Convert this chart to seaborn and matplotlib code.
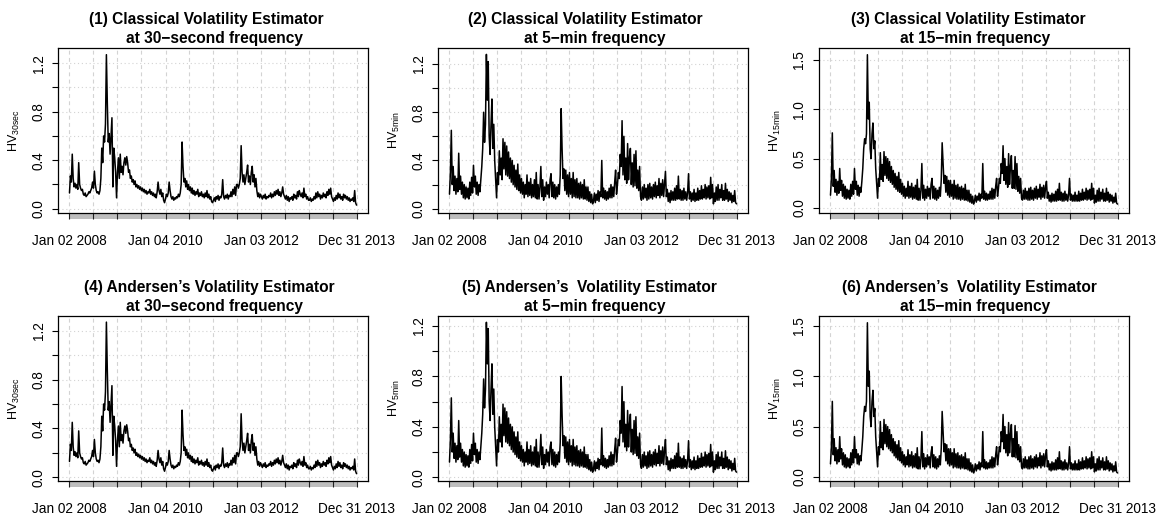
import numpy as np
import pandas as pd
import matplotlib
matplotlib.use("Agg")
import matplotlib.pyplot as plt
import matplotlib.dates as mdates
from matplotlib.patches import Rectangle
from matplotlib.transforms import blended_transform_factory
import seaborn as sns

# ---------------------------------------------------------------- data
start_date = "2008-01-02"
end_date = "2013-12-31"

# first trading day of every half-year (ticks + vertical grid)
period_marks = ["2008-01-02", "2008-07-01", "2009-01-02", "2009-07-01",
                "2010-01-04", "2010-07-01", "2011-01-03", "2011-07-01",
                "2012-01-03", "2012-07-02", "2013-01-02", "2013-07-01",
                "2013-12-31"]
period_labels = ["Jan 02 2008", "", "", "", "Jan 04 2010", "", "", "",
                 "Jan 03 2012", "", "", "", "Dec 31 2013"]

# weekly realised volatility, one row per half-year
classical_30s = [
    0.13, 0.27, 0.22, 0.45, 0.25, 0.18, 0.21, 0.17, 0.20, 0.16, 0.38, 0.20, 0.17, 0.15, 0.16, 0.12, 0.11, 0.13, 0.10, 0.11, 0.12, 0.14, 0.13, 0.15, 0.17, 0.22,
    0.17, 0.31, 0.20, 0.15, 0.13, 0.14, 0.12, 0.15, 0.25, 0.50, 0.38, 0.60, 0.55, 0.70, 1.27, 0.87, 0.55, 0.62, 0.45, 0.60, 0.75, 0.18, 0.50, 0.42, 0.30, 0.09,
    0.30, 0.42, 0.25, 0.45, 0.30, 0.35, 0.28, 0.38, 0.42, 0.36, 0.43, 0.38, 0.30, 0.32, 0.25, 0.27, 0.22, 0.24, 0.20, 0.23, 0.18, 0.20, 0.17, 0.19, 0.16, 0.18,
    0.15, 0.17, 0.14, 0.16, 0.13, 0.15, 0.12, 0.14, 0.13, 0.16, 0.12, 0.14, 0.11, 0.13, 0.10, 0.12, 0.09, 0.14, 0.22, 0.15, 0.12, 0.16, 0.10, 0.13, 0.07, 0.05,
    0.08, 0.12, 0.10, 0.13, 0.22, 0.15, 0.10, 0.08, 0.10, 0.07, 0.09, 0.08, 0.10, 0.09, 0.12, 0.10, 0.13, 0.20, 0.55, 0.35, 0.22, 0.25, 0.18, 0.23, 0.16, 0.20,
    0.15, 0.18, 0.13, 0.17, 0.12, 0.15, 0.11, 0.14, 0.12, 0.16, 0.10, 0.13, 0.11, 0.14, 0.10, 0.12, 0.09, 0.13, 0.10, 0.15, 0.09, 0.12, 0.08, 0.10, 0.06, 0.05,
    0.07, 0.09, 0.06, 0.10, 0.08, 0.11, 0.07, 0.10, 0.09, 0.12, 0.24, 0.10, 0.08, 0.11, 0.09, 0.12, 0.08, 0.11, 0.10, 0.14, 0.10, 0.16, 0.12, 0.18, 0.11, 0.20,
    0.20, 0.17, 0.20, 0.25, 0.52, 0.30, 0.22, 0.28, 0.20, 0.25, 0.30, 0.36, 0.22, 0.27, 0.20, 0.30, 0.35, 0.22, 0.28, 0.18, 0.25, 0.15, 0.10, 0.13, 0.09, 0.12,
    0.10, 0.08, 0.11, 0.09, 0.12, 0.08, 0.10, 0.09, 0.11, 0.10, 0.13, 0.09, 0.12, 0.10, 0.14, 0.11, 0.15, 0.12, 0.16, 0.11, 0.14, 0.10, 0.13, 0.18, 0.12, 0.10,
    0.08, 0.11, 0.07, 0.10, 0.06, 0.09, 0.08, 0.10, 0.07, 0.12, 0.09, 0.11, 0.08, 0.14, 0.10, 0.15, 0.12, 0.10, 0.13, 0.09, 0.17, 0.10, 0.12, 0.08, 0.10, 0.07,
    0.07, 0.09, 0.06, 0.08, 0.07, 0.10, 0.08, 0.13, 0.09, 0.14, 0.10, 0.12, 0.08, 0.11, 0.09, 0.13, 0.10, 0.12, 0.09, 0.14, 0.11, 0.16, 0.12, 0.17, 0.10, 0.08,
    0.06, 0.09, 0.07, 0.11, 0.08, 0.13, 0.09, 0.12, 0.08, 0.10, 0.07, 0.12, 0.09, 0.11, 0.08, 0.10, 0.07, 0.09, 0.06, 0.08, 0.07, 0.09, 0.06, 0.15, 0.05, 0.03,
]

classical_5min = [
    0.12, 0.30, 0.65, 0.20, 0.35, 0.15, 0.27, 0.12, 0.25, 0.14, 0.46, 0.16, 0.27, 0.12, 0.22, 0.09, 0.20, 0.08, 0.18, 0.09, 0.17, 0.08, 0.22, 0.11, 0.26, 0.13,
    0.36, 0.18, 0.27, 0.12, 0.22, 0.11, 0.20, 0.14, 0.25, 0.35, 0.50, 0.80, 0.55, 0.70, 1.28, 0.90, 1.22, 0.60, 0.45, 0.70, 0.91, 0.50, 0.70, 0.40, 0.25, 0.09,
    0.30, 0.20, 0.48, 0.28, 0.42, 0.24, 0.58, 0.33, 0.55, 0.28, 0.52, 0.27, 0.47, 0.25, 0.42, 0.22, 0.40, 0.20, 0.36, 0.18, 0.32, 0.16, 0.37, 0.15, 0.28, 0.13,
    0.25, 0.12, 0.22, 0.09, 0.20, 0.12, 0.28, 0.10, 0.22, 0.11, 0.25, 0.09, 0.20, 0.10, 0.24, 0.09, 0.30, 0.08, 0.20, 0.08, 0.18, 0.35, 0.10, 0.24, 0.07, 0.18,
    0.10, 0.22, 0.12, 0.20, 0.09, 0.24, 0.29, 0.10, 0.22, 0.09, 0.20, 0.08, 0.18, 0.10, 0.20, 0.12, 0.28, 0.83, 0.50, 0.25, 0.33, 0.15, 0.32, 0.12, 0.28, 0.10,
    0.30, 0.12, 0.25, 0.09, 0.30, 0.10, 0.24, 0.09, 0.25, 0.09, 0.21, 0.08, 0.22, 0.09, 0.20, 0.08, 0.24, 0.08, 0.18, 0.07, 0.18, 0.06, 0.14, 0.05, 0.12, 0.04,
    0.06, 0.13, 0.05, 0.12, 0.07, 0.15, 0.06, 0.14, 0.10, 0.40, 0.09, 0.17, 0.08, 0.15, 0.07, 0.14, 0.08, 0.17, 0.09, 0.20, 0.09, 0.18, 0.10, 0.22, 0.32, 0.12,
    0.20, 0.30, 0.25, 0.45, 0.35, 0.73, 0.28, 0.60, 0.24, 0.42, 0.21, 0.54, 0.24, 0.42, 0.50, 0.20, 0.38, 0.18, 0.45, 0.19, 0.48, 0.17, 0.32, 0.15, 0.35, 0.10,
    0.07, 0.18, 0.08, 0.20, 0.09, 0.17, 0.07, 0.20, 0.08, 0.21, 0.09, 0.18, 0.08, 0.20, 0.10, 0.22, 0.09, 0.19, 0.11, 0.25, 0.09, 0.21, 0.11, 0.24, 0.10, 0.21,
    0.31, 0.10, 0.16, 0.06, 0.13, 0.05, 0.15, 0.07, 0.14, 0.07, 0.17, 0.07, 0.19, 0.08, 0.27, 0.08, 0.16, 0.07, 0.15, 0.07, 0.17, 0.08, 0.14, 0.07, 0.13, 0.29,
    0.08, 0.14, 0.06, 0.13, 0.07, 0.16, 0.06, 0.13, 0.07, 0.17, 0.07, 0.15, 0.08, 0.19, 0.08, 0.16, 0.09, 0.20, 0.08, 0.18, 0.09, 0.19, 0.08, 0.26, 0.09, 0.20,
    0.04, 0.13, 0.06, 0.18, 0.07, 0.20, 0.07, 0.16, 0.09, 0.20, 0.07, 0.15, 0.07, 0.21, 0.08, 0.16, 0.06, 0.14, 0.07, 0.13, 0.05, 0.11, 0.06, 0.15, 0.05, 0.04,
]

classical_15min = [
    0.13, 0.30, 0.76, 0.22, 0.38, 0.16, 0.29, 0.13, 0.27, 0.15, 0.40, 0.18, 0.28, 0.12, 0.24, 0.10, 0.22, 0.09, 0.19, 0.10, 0.18, 0.09, 0.24, 0.12, 0.27, 0.14,
    0.40, 0.19, 0.27, 0.13, 0.23, 0.12, 0.21, 0.16, 0.27, 0.40, 0.60, 0.70, 0.65, 0.75, 1.55, 0.90, 1.07, 0.60, 0.50, 0.75, 0.86, 0.60, 0.68, 0.40, 0.25, 0.10,
    0.30, 0.22, 0.56, 0.29, 0.44, 0.27, 0.57, 0.33, 0.52, 0.30, 0.50, 0.28, 0.47, 0.26, 0.42, 0.24, 0.38, 0.21, 0.35, 0.19, 0.32, 0.17, 0.36, 0.16, 0.29, 0.14,
    0.25, 0.12, 0.22, 0.10, 0.20, 0.12, 0.27, 0.10, 0.22, 0.11, 0.25, 0.09, 0.21, 0.10, 0.23, 0.09, 0.29, 0.08, 0.20, 0.08, 0.18, 0.45, 0.10, 0.23, 0.08, 0.19,
    0.10, 0.22, 0.12, 0.20, 0.09, 0.24, 0.30, 0.10, 0.22, 0.09, 0.20, 0.08, 0.18, 0.10, 0.21, 0.12, 0.28, 0.66, 0.45, 0.25, 0.33, 0.16, 0.32, 0.13, 0.28, 0.11,
    0.28, 0.12, 0.24, 0.09, 0.28, 0.10, 0.23, 0.09, 0.24, 0.09, 0.21, 0.08, 0.22, 0.09, 0.20, 0.08, 0.24, 0.08, 0.18, 0.07, 0.18, 0.06, 0.14, 0.05, 0.12, 0.04,
    0.07, 0.13, 0.06, 0.12, 0.08, 0.15, 0.07, 0.14, 0.10, 0.45, 0.09, 0.17, 0.08, 0.15, 0.08, 0.14, 0.09, 0.17, 0.09, 0.20, 0.09, 0.19, 0.10, 0.22, 0.30, 0.12,
    0.20, 0.30, 0.25, 0.45, 0.35, 0.63, 0.28, 0.50, 0.24, 0.42, 0.21, 0.55, 0.24, 0.42, 0.53, 0.20, 0.38, 0.20, 0.52, 0.19, 0.45, 0.17, 0.32, 0.15, 0.30, 0.10,
    0.08, 0.18, 0.09, 0.20, 0.09, 0.17, 0.08, 0.20, 0.08, 0.21, 0.09, 0.18, 0.08, 0.20, 0.10, 0.22, 0.09, 0.19, 0.11, 0.24, 0.09, 0.21, 0.11, 0.23, 0.10, 0.21,
    0.27, 0.10, 0.16, 0.07, 0.13, 0.06, 0.15, 0.07, 0.14, 0.07, 0.17, 0.07, 0.19, 0.08, 0.25, 0.08, 0.16, 0.07, 0.15, 0.07, 0.17, 0.08, 0.14, 0.07, 0.13, 0.30,
    0.08, 0.14, 0.07, 0.13, 0.07, 0.16, 0.07, 0.13, 0.07, 0.17, 0.07, 0.15, 0.08, 0.19, 0.08, 0.16, 0.09, 0.20, 0.08, 0.18, 0.09, 0.19, 0.08, 0.25, 0.09, 0.20,
    0.05, 0.13, 0.06, 0.18, 0.07, 0.20, 0.07, 0.16, 0.09, 0.19, 0.07, 0.15, 0.07, 0.20, 0.08, 0.16, 0.06, 0.14, 0.07, 0.13, 0.05, 0.11, 0.06, 0.15, 0.05, 0.04,
]

andersen_30s = [
    0.13, 0.27, 0.22, 0.45, 0.25, 0.18, 0.21, 0.17, 0.20, 0.16, 0.38, 0.20, 0.17, 0.15, 0.16, 0.12, 0.11, 0.13, 0.10, 0.11, 0.12, 0.14, 0.13, 0.15, 0.17, 0.22,
    0.17, 0.31, 0.20, 0.15, 0.13, 0.14, 0.12, 0.15, 0.25, 0.50, 0.38, 0.60, 0.55, 0.70, 1.27, 0.87, 0.55, 0.62, 0.45, 0.60, 0.75, 0.18, 0.50, 0.42, 0.30, 0.09,
    0.30, 0.42, 0.25, 0.45, 0.30, 0.35, 0.28, 0.38, 0.42, 0.36, 0.43, 0.38, 0.30, 0.32, 0.25, 0.27, 0.22, 0.24, 0.20, 0.23, 0.18, 0.20, 0.17, 0.19, 0.16, 0.18,
    0.15, 0.17, 0.14, 0.16, 0.13, 0.15, 0.12, 0.14, 0.13, 0.16, 0.12, 0.14, 0.11, 0.13, 0.10, 0.12, 0.09, 0.14, 0.22, 0.15, 0.12, 0.16, 0.10, 0.13, 0.07, 0.05,
    0.08, 0.12, 0.10, 0.13, 0.22, 0.15, 0.10, 0.08, 0.10, 0.07, 0.09, 0.08, 0.10, 0.09, 0.12, 0.10, 0.13, 0.20, 0.55, 0.35, 0.22, 0.25, 0.18, 0.23, 0.16, 0.20,
    0.15, 0.18, 0.13, 0.17, 0.12, 0.15, 0.11, 0.14, 0.12, 0.16, 0.10, 0.13, 0.11, 0.14, 0.10, 0.12, 0.09, 0.13, 0.10, 0.15, 0.09, 0.12, 0.08, 0.10, 0.06, 0.05,
    0.07, 0.09, 0.06, 0.10, 0.08, 0.11, 0.07, 0.10, 0.09, 0.12, 0.24, 0.10, 0.08, 0.11, 0.09, 0.12, 0.08, 0.11, 0.10, 0.14, 0.10, 0.16, 0.12, 0.18, 0.11, 0.20,
    0.20, 0.17, 0.20, 0.25, 0.52, 0.30, 0.22, 0.28, 0.20, 0.25, 0.30, 0.36, 0.22, 0.27, 0.20, 0.30, 0.35, 0.22, 0.28, 0.18, 0.25, 0.15, 0.10, 0.13, 0.09, 0.12,
    0.10, 0.08, 0.11, 0.09, 0.12, 0.08, 0.10, 0.09, 0.11, 0.10, 0.13, 0.09, 0.12, 0.10, 0.14, 0.11, 0.15, 0.12, 0.16, 0.11, 0.14, 0.10, 0.13, 0.18, 0.12, 0.10,
    0.08, 0.11, 0.07, 0.10, 0.06, 0.09, 0.08, 0.10, 0.07, 0.12, 0.09, 0.11, 0.08, 0.14, 0.10, 0.15, 0.12, 0.10, 0.13, 0.09, 0.17, 0.10, 0.12, 0.08, 0.10, 0.07,
    0.07, 0.09, 0.06, 0.08, 0.07, 0.10, 0.08, 0.13, 0.09, 0.14, 0.10, 0.12, 0.08, 0.11, 0.09, 0.13, 0.10, 0.12, 0.09, 0.14, 0.11, 0.16, 0.12, 0.17, 0.10, 0.08,
    0.06, 0.09, 0.07, 0.11, 0.08, 0.13, 0.09, 0.12, 0.08, 0.10, 0.07, 0.12, 0.09, 0.11, 0.08, 0.10, 0.07, 0.09, 0.06, 0.08, 0.07, 0.09, 0.06, 0.15, 0.05, 0.03,
]

andersen_5min = [
    0.12, 0.30, 0.63, 0.20, 0.35, 0.15, 0.27, 0.12, 0.25, 0.14, 0.45, 0.16, 0.27, 0.12, 0.22, 0.09, 0.20, 0.08, 0.18, 0.09, 0.17, 0.08, 0.22, 0.11, 0.26, 0.13,
    0.35, 0.18, 0.27, 0.12, 0.22, 0.11, 0.20, 0.14, 0.25, 0.35, 0.50, 0.78, 0.55, 0.70, 1.23, 0.90, 1.18, 0.60, 0.45, 0.70, 0.90, 0.50, 0.70, 0.40, 0.25, 0.09,
    0.30, 0.20, 0.48, 0.28, 0.42, 0.24, 0.58, 0.33, 0.55, 0.28, 0.52, 0.27, 0.47, 0.25, 0.42, 0.22, 0.40, 0.20, 0.36, 0.18, 0.32, 0.16, 0.36, 0.15, 0.28, 0.13,
    0.25, 0.12, 0.22, 0.09, 0.20, 0.12, 0.28, 0.10, 0.22, 0.11, 0.25, 0.09, 0.20, 0.10, 0.24, 0.09, 0.30, 0.08, 0.20, 0.08, 0.18, 0.34, 0.10, 0.24, 0.07, 0.18,
    0.10, 0.22, 0.12, 0.20, 0.09, 0.24, 0.28, 0.10, 0.22, 0.09, 0.20, 0.08, 0.18, 0.10, 0.20, 0.12, 0.28, 0.80, 0.50, 0.25, 0.33, 0.15, 0.32, 0.12, 0.28, 0.10,
    0.30, 0.12, 0.25, 0.09, 0.30, 0.10, 0.24, 0.09, 0.25, 0.09, 0.21, 0.08, 0.22, 0.09, 0.20, 0.08, 0.24, 0.08, 0.18, 0.07, 0.18, 0.06, 0.14, 0.05, 0.12, 0.04,
    0.06, 0.13, 0.05, 0.12, 0.07, 0.15, 0.06, 0.14, 0.10, 0.39, 0.09, 0.17, 0.08, 0.15, 0.07, 0.14, 0.08, 0.17, 0.09, 0.20, 0.09, 0.18, 0.10, 0.22, 0.31, 0.12,
    0.20, 0.30, 0.25, 0.45, 0.35, 0.72, 0.28, 0.60, 0.24, 0.42, 0.21, 0.53, 0.24, 0.42, 0.50, 0.20, 0.38, 0.18, 0.45, 0.19, 0.48, 0.17, 0.32, 0.15, 0.35, 0.10,
    0.07, 0.18, 0.08, 0.20, 0.09, 0.17, 0.07, 0.20, 0.08, 0.21, 0.09, 0.18, 0.08, 0.20, 0.10, 0.22, 0.09, 0.19, 0.11, 0.25, 0.09, 0.21, 0.11, 0.24, 0.10, 0.21,
    0.30, 0.10, 0.16, 0.06, 0.13, 0.05, 0.15, 0.07, 0.14, 0.07, 0.17, 0.07, 0.19, 0.08, 0.27, 0.08, 0.16, 0.07, 0.15, 0.07, 0.17, 0.08, 0.14, 0.07, 0.13, 0.29,
    0.08, 0.14, 0.06, 0.13, 0.07, 0.16, 0.06, 0.13, 0.07, 0.17, 0.07, 0.15, 0.08, 0.19, 0.08, 0.16, 0.09, 0.20, 0.08, 0.18, 0.09, 0.19, 0.08, 0.26, 0.09, 0.20,
    0.04, 0.13, 0.06, 0.18, 0.07, 0.20, 0.07, 0.16, 0.09, 0.20, 0.07, 0.15, 0.07, 0.21, 0.08, 0.16, 0.06, 0.14, 0.07, 0.13, 0.05, 0.11, 0.06, 0.15, 0.05, 0.04,
]

andersen_15min = [
    0.13, 0.30, 0.75, 0.22, 0.38, 0.16, 0.29, 0.13, 0.27, 0.15, 0.40, 0.18, 0.28, 0.12, 0.24, 0.10, 0.22, 0.09, 0.19, 0.10, 0.18, 0.09, 0.24, 0.12, 0.27, 0.14,
    0.40, 0.19, 0.27, 0.13, 0.23, 0.12, 0.21, 0.16, 0.27, 0.40, 0.60, 0.70, 0.65, 0.75, 1.53, 0.90, 1.05, 0.60, 0.50, 0.75, 0.86, 0.60, 0.68, 0.40, 0.25, 0.10,
    0.30, 0.22, 0.55, 0.29, 0.44, 0.27, 0.57, 0.33, 0.52, 0.30, 0.50, 0.28, 0.47, 0.26, 0.42, 0.24, 0.38, 0.21, 0.35, 0.19, 0.32, 0.17, 0.36, 0.16, 0.29, 0.14,
    0.25, 0.12, 0.22, 0.10, 0.20, 0.12, 0.27, 0.10, 0.22, 0.11, 0.25, 0.09, 0.21, 0.10, 0.23, 0.09, 0.29, 0.08, 0.20, 0.08, 0.18, 0.45, 0.10, 0.23, 0.08, 0.19,
    0.10, 0.22, 0.12, 0.20, 0.09, 0.24, 0.30, 0.10, 0.22, 0.09, 0.20, 0.08, 0.18, 0.10, 0.21, 0.12, 0.28, 0.65, 0.45, 0.25, 0.33, 0.16, 0.32, 0.13, 0.28, 0.11,
    0.28, 0.12, 0.24, 0.09, 0.28, 0.10, 0.23, 0.09, 0.24, 0.09, 0.21, 0.08, 0.22, 0.09, 0.20, 0.08, 0.24, 0.08, 0.18, 0.07, 0.18, 0.06, 0.14, 0.05, 0.12, 0.04,
    0.07, 0.13, 0.06, 0.12, 0.08, 0.15, 0.07, 0.14, 0.10, 0.45, 0.09, 0.17, 0.08, 0.15, 0.08, 0.14, 0.09, 0.17, 0.09, 0.20, 0.09, 0.19, 0.10, 0.22, 0.30, 0.12,
    0.20, 0.30, 0.25, 0.45, 0.35, 0.62, 0.28, 0.50, 0.24, 0.42, 0.21, 0.54, 0.24, 0.42, 0.52, 0.20, 0.38, 0.20, 0.51, 0.19, 0.45, 0.17, 0.32, 0.15, 0.30, 0.10,
    0.08, 0.18, 0.09, 0.20, 0.09, 0.17, 0.08, 0.20, 0.08, 0.21, 0.09, 0.18, 0.08, 0.20, 0.10, 0.22, 0.09, 0.19, 0.11, 0.24, 0.09, 0.21, 0.11, 0.23, 0.10, 0.21,
    0.27, 0.10, 0.16, 0.07, 0.13, 0.06, 0.15, 0.07, 0.14, 0.07, 0.17, 0.07, 0.19, 0.08, 0.25, 0.08, 0.16, 0.07, 0.15, 0.07, 0.17, 0.08, 0.14, 0.07, 0.13, 0.30,
    0.08, 0.14, 0.07, 0.13, 0.07, 0.16, 0.07, 0.13, 0.07, 0.17, 0.07, 0.15, 0.08, 0.19, 0.08, 0.16, 0.09, 0.20, 0.08, 0.18, 0.09, 0.19, 0.08, 0.25, 0.09, 0.20,
    0.05, 0.13, 0.06, 0.18, 0.07, 0.20, 0.07, 0.16, 0.09, 0.19, 0.07, 0.15, 0.07, 0.20, 0.08, 0.16, 0.06, 0.14, 0.07, 0.13, 0.05, 0.11, 0.06, 0.15, 0.05, 0.04,
]

titles = [
    ("(1) Classical Volatility Estimator", "at 30\u2212second frequency"),
    ("(2) Classical Volatility Estimator", "at 5\u2212min frequency"),
    ("(3) Classical Volatility Estimator", "at 15\u2212min frequency"),
    ("(4) Andersen\u2019s Volatility Estimator", "at 30\u2212second frequency"),
    ("(5) Andersen\u2019s  Volatility Estimator", "at 5\u2212min frequency"),
    ("(6) Andersen\u2019s  Volatility Estimator", "at 15\u2212min frequency"),
]
y_labels = [r"HV$_{\mathregular{30sec}}$", r"HV$_{\mathregular{5min}}$",
            r"HV$_{\mathregular{15min}}$"] * 2
series = [classical_30s, classical_5min, classical_15min,
          andersen_30s, andersen_5min, andersen_15min]

ticks_fine = [0.0, 0.2, 0.4, 0.6, 0.8, 1.0, 1.2]
labels_fine = ["0.0", "", "0.4", "", "0.8", "", "1.2"]
ticks_coarse = [0.0, 0.5, 1.0, 1.5]
labels_coarse = ["0.0", "0.5", "1.0", "1.5"]
y_ticks = [ticks_fine, ticks_fine, ticks_coarse] * 2
y_ticklabels = [labels_fine, labels_fine, labels_coarse] * 2
y_limits = [(-0.035, 1.325), (-0.036, 1.333), (-0.05, 1.618),
            (-0.03, 1.32), (-0.03, 1.28), (-0.04, 1.597)]
title1_x = [0.477, 0.476, 0.482, 0.488, 0.488, 0.486]

# ---------------------------------------------------------------- style
sns.set_theme(style="white")
plt.rcParams["font.family"] = ["Liberation Sans", "DejaVu Sans"]
plt.rcParams["mathtext.fontset"] = "custom"
plt.rcParams["mathtext.rm"] = "Liberation Sans"
plt.rcParams["text.color"] = "black"
plt.rcParams["axes.labelcolor"] = "black"
plt.rcParams["xtick.color"] = "black"
plt.rcParams["ytick.color"] = "black"

W, H = 1158, 519
fig = plt.figure(figsize=(W / 100, H / 100), dpi=100)

box_left = [58, 438, 819]
box_top = [48, 316]
box_w, box_h = 310, 165
band_h = 6 / box_h
grid_col = "#D3D3D3"

x0 = mdates.date2num(pd.Timestamp(start_date))
x1 = mdates.date2num(pd.Timestamp(end_date))
span = x1 - x0
mark_nums = [mdates.date2num(pd.Timestamp(d)) for d in period_marks]

for k, values in enumerate(series):
    r, c = divmod(k, 3)
    ax = fig.add_axes([box_left[c] / W, 1 - (box_top[r] + box_h) / H,
                       box_w / W, box_h / H])
    dates = pd.date_range(start_date, end_date, periods=len(values))
    frame = pd.DataFrame({"date": dates, "hv": values})
    sns.lineplot(data=frame, x="date", y="hv", ax=ax, color="black",
                 linewidth=1.1, estimator=None, sort=False)

    ax.set_xlim(x0 - 0.04 * span, x1 + 0.04 * span)
    ax.set_ylim(*y_limits[k])

    # x axis: half-year ticks crossing a grey band under the frame
    ax.set_xticks(mark_nums)
    ax.set_xticklabels(period_labels)
    ax.tick_params(axis="x", bottom=True, direction="out", length=4.3,
                   width=0.8, color="#222222", labelcolor="black",
                   labelsize=9.8, pad=11)
    trans = blended_transform_factory(ax.transData, ax.transAxes)
    ax.add_patch(Rectangle((x0, -band_h), x1 - x0, band_h, transform=trans,
                           facecolor="#BEBEBE", edgecolor="none",
                           clip_on=False, zorder=0))

    # y axis
    ax.set_yticks(y_ticks[k])
    ax.set_yticklabels(y_ticklabels[k])
    ax.tick_params(axis="y", left=True, direction="out", length=4,
                   width=0.8, color="black", labelcolor="black",
                   labelsize=9.8, pad=5)
    plt.setp(ax.get_yticklabels(), rotation=90, va="center", ha="right")

    ax.set_xlabel("")
    ax.set_ylabel(y_labels[k], fontsize=9, color="black")
    ax.yaxis.set_label_coords(-0.116, 0.5)

    # grid
    ax.set_axisbelow(True)
    ax.grid(axis="x", color=grid_col, linestyle=(0, (3.5, 3)), linewidth=0.8)
    ax.grid(axis="y", color=grid_col, linestyle=(0, (1, 2.5)), linewidth=0.8)

    for s in ax.spines.values():
        s.set_color("black")
        s.set_linewidth(0.9)

    line1, line2 = titles[k]
    ax.text(title1_x[k], 1.145, line1, transform=ax.transAxes, ha="center",
            va="baseline", fontsize=11.2, fontweight="bold", color="black")
    ax.text(0.505, 1.033, line2, transform=ax.transAxes, ha="center",
            va="baseline", fontsize=11.2, fontweight="bold", color="black")

fig.savefig("out.png", dpi=100)
